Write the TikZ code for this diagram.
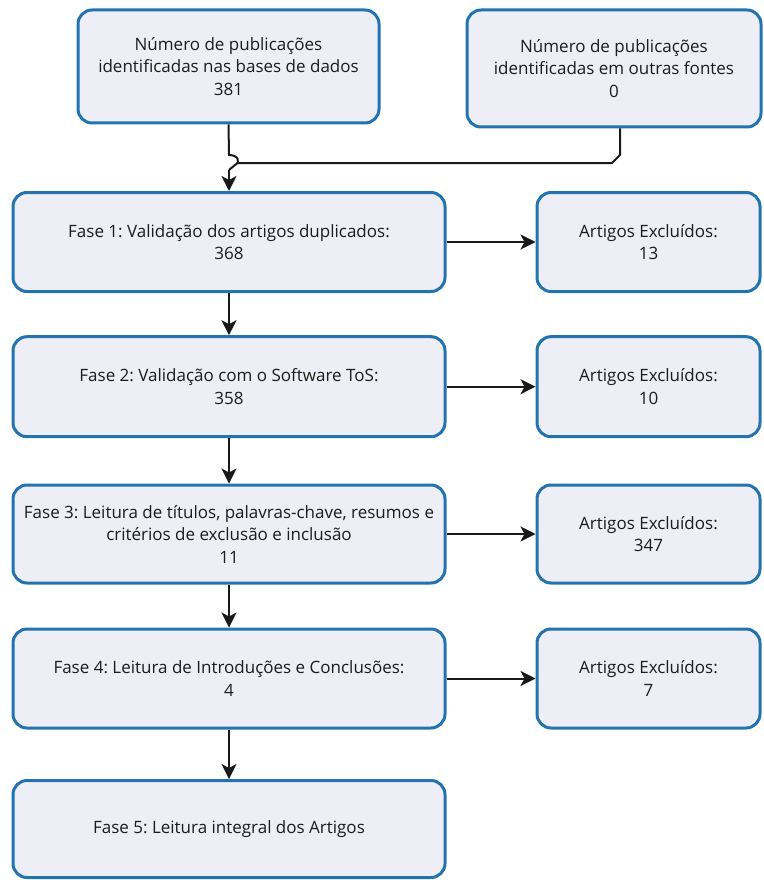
\documentclass[tikz,border=0pt]{standalone}
\usepackage{fontspec}
\setmainfont{Open Sans}
\usetikzlibrary{arrows.meta}
\definecolor{boxline}{HTML}{2373AE}
\definecolor{boxfill}{HTML}{EEEEF6}
\definecolor{inktext}{HTML}{1C1C1C}
\frenchspacing
\begin{document}
\begin{tikzpicture}[x=1pt,y=-1pt,
  flowbox/.style={draw=boxline, fill=boxfill, line width=3pt,
    rounded corners=14pt, inner sep=0pt, align=center,
    text=inktext, font=\fontsize{17}{22.5}\selectfont},
  link/.style={line width=2pt, draw=black!90},
  tip/.style={-{Stealth[length=15pt,width=15pt,inset=4pt]}}
]
\useasboundingbox (0,0) rectangle (763,880);

% sources
\node[flowbox, minimum width=301pt, minimum height=113pt] (srcA) at (228.5,66.5)
  {Número de publicações\\identificadas nas bases de dados\\381};
\node[flowbox, minimum width=294pt, minimum height=117pt] (srcB) at (614,68.5)
  {Número de publicações\\identificadas em outras fontes\\0};

% phases
\node[flowbox, minimum width=432pt, minimum height=99pt] (f1) at (229,242)
  {Fase 1: Validação dos artigos duplicados:\\368};
\node[flowbox, minimum width=432pt, minimum height=100pt] (f2) at (229,386.7)
  {Fase 2: Validação com o Software ToS:\\358};
\node[flowbox, minimum width=432pt, minimum height=98pt] (f3) at (229,534)
  {Fase 3: Leitura de títulos, palavras-chave, resumos e\\critérios de exclusão e inclusão\\11};
\node[flowbox, minimum width=432pt, minimum height=99pt] (f4) at (229,678.5)
  {Fase 4: Leitura de Introduções e Conclusões:\\4};
\node[flowbox, minimum width=432pt, minimum height=97pt] (f5) at (229,829)
  {Fase 5: Leitura integral dos Artigos};

% excluded counts
\node[flowbox, minimum width=223pt, minimum height=99pt] (e1) at (648.5,242)
  {Artigos Excluídos:\\13};
\node[flowbox, minimum width=223pt, minimum height=100pt] (e2) at (648.5,386.7)
  {Artigos Excluídos:\\10};
\node[flowbox, minimum width=223pt, minimum height=98pt] (e3) at (648.5,534)
  {Artigos Excluídos:\\347};
\node[flowbox, minimum width=223pt, minimum height=99pt] (e4) at (648.5,678.5)
  {Artigos Excluídos:\\7};

% merge of both sources, with a line jump
\coordinate (hopTop) at (229,155);
\coordinate (hopBot) at (229,170);
\coordinate (bDrop) at (620,155);
\coordinate (bBend) at (612,163);
\coordinate (bEnd) at (237,163);
\draw[link] (srcA.south) -- (hopTop)
  .. controls (238,155) and (241,162) .. (235,165) -- (hopBot);
\draw[link, tip] (hopBot) -- (f1.north);
\draw[link] (srcB.south -| bDrop) -- (bDrop) -- (bBend) -- (bEnd);

% phase chain
\draw[link, tip] (f1) -- (f2);
\draw[link, tip] (f2) -- (f3);
\draw[link, tip] (f3) -- (f4);
\draw[link, tip] (f4) -- (f5);

% exclusions
\draw[link, tip] (f1) -- (e1);
\draw[link, tip] (f2) -- (e2);
\draw[link, tip] (f3) -- (e3);
\draw[link, tip] (f4) -- (e4);
\end{tikzpicture}
\end{document}
